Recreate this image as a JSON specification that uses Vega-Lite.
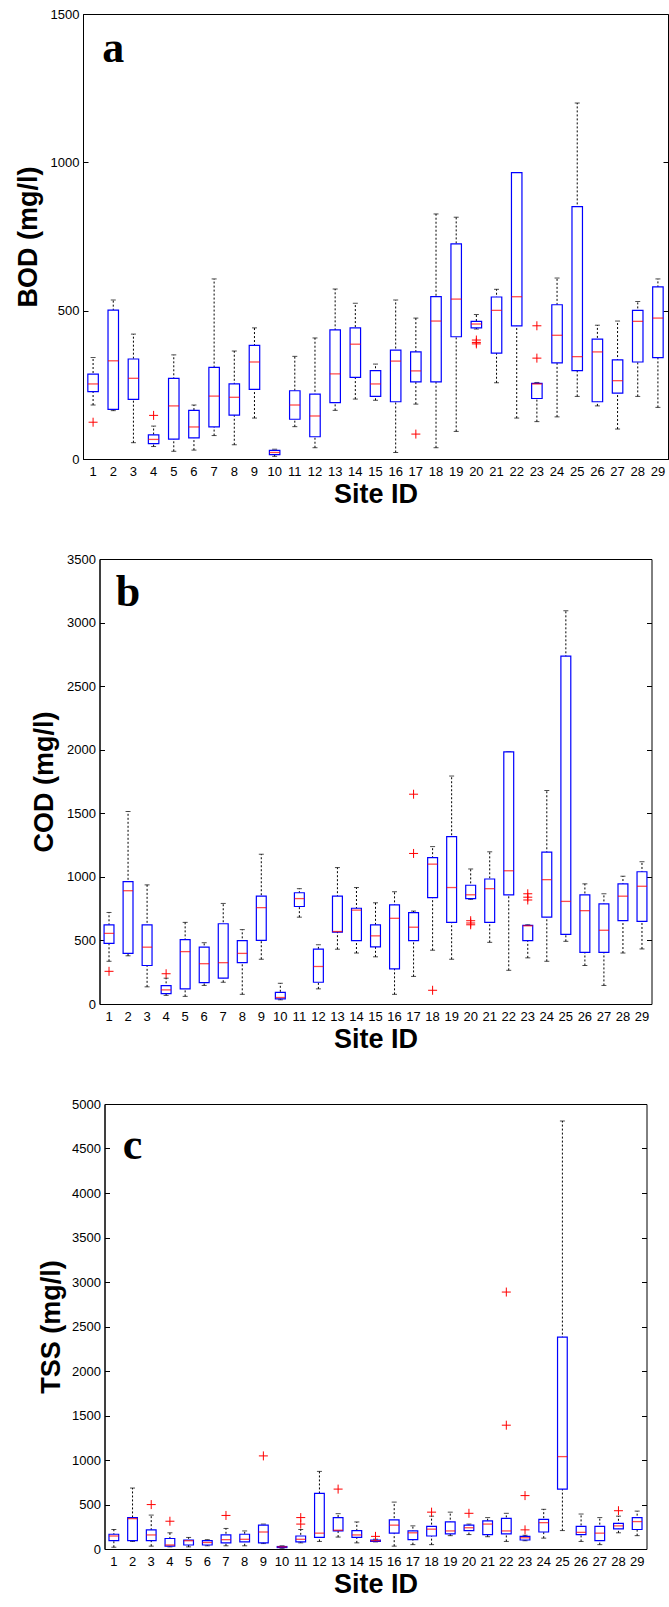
{
  "$schema": "https://vega.github.io/schema/vega-lite/v6.json",
  "padding": {"left": 13, "top": 7, "right": 0, "bottom": 0},
  "background": "white",
  "datasets": {
    "bod": [
      {"site":1,"lo":182,"q1":227,"med":253,"q3":286,"hi":342},
      {"site":2,"lo":163,"q1":167,"med":331,"q3":502,"hi":536},
      {"site":3,"lo":55,"q1":201,"med":272,"q3":337,"hi":421},
      {"site":4,"lo":42,"q1":52,"med":66,"q3":81,"hi":111},
      {"site":5,"lo":26,"q1":67,"med":179,"q3":272,"hi":351},
      {"site":6,"lo":30,"q1":71,"med":108,"q3":164,"hi":182},
      {"site":7,"lo":79,"q1":108,"med":212,"q3":309,"hi":607},
      {"site":8,"lo":48,"q1":148,"med":208,"q3":253,"hi":364},
      {"site":9,"lo":138,"q1":235,"med":327,"q3":383,"hi":442},
      {"site":10,"lo":9,"q1":15,"med":22,"q3":29,"hi":33},
      {"site":11,"lo":109,"q1":134,"med":182,"q3":230,"hi":346},
      {"site":12,"lo":38,"q1":75,"med":145,"q3":219,"hi":408},
      {"site":13,"lo":164,"q1":190,"med":287,"q3":435,"hi":573},
      {"site":14,"lo":202,"q1":275,"med":387,"q3":442,"hi":525},
      {"site":15,"lo":198,"q1":211,"med":253,"q3":298,"hi":320},
      {"site":16,"lo":22,"q1":193,"med":330,"q3":367,"hi":536},
      {"site":17,"lo":185,"q1":260,"med":297,"q3":361,"hi":475},
      {"site":18,"lo":38,"q1":260,"med":465,"q3":547,"hi":826},
      {"site":19,"lo":93,"q1":412,"med":539,"q3":725,"hi":815},
      {"site":20,"lo":438,"q1":442,"med":455,"q3":464,"hi":487},
      {"site":21,"lo":257,"q1":357,"med":501,"q3":546,"hi":572},
      {"site":22,"lo":138,"q1":449,"med":547,"q3":965,"hi":965},
      {"site":23,"lo":126,"q1":204,"med":253,"q3":255,"hi":258},
      {"site":24,"lo":142,"q1":324,"med":417,"q3":520,"hi":610},
      {"site":25,"lo":211,"q1":298,"med":345,"q3":851,"hi":1200},
      {"site":26,"lo":179,"q1":193,"med":361,"q3":404,"hi":451},
      {"site":27,"lo":101,"q1":222,"med":264,"q3":334,"hi":465},
      {"site":28,"lo":211,"q1":327,"med":464,"q3":501,"hi":531},
      {"site":29,"lo":174,"q1":342,"med":475,"q3":580,"hi":607}
    ],
    "bodOut": [
      {"site":1,"v":124},{"site":4,"v":147},{"site":17,"v":84},
      {"site":20,"v":401},{"site":20,"v":393},{"site":20,"v":388},
      {"site":23,"v":449},{"site":23,"v":340}
    ],
    "cod": [
      {"site":1,"lo":336,"q1":477,"med":555,"q3":623,"hi":720},
      {"site":2,"lo":379,"q1":398,"med":891,"q3":962,"hi":1514},
      {"site":3,"lo":135,"q1":303,"med":447,"q3":623,"hi":937},
      {"site":4,"lo":68,"q1":81,"med":111,"q3":144,"hi":203},
      {"site":5,"lo":60,"q1":119,"med":412,"q3":507,"hi":642},
      {"site":6,"lo":146,"q1":168,"med":317,"q3":447,"hi":482},
      {"site":7,"lo":171,"q1":203,"med":325,"q3":631,"hi":791},
      {"site":8,"lo":76,"q1":325,"med":398,"q3":498,"hi":585},
      {"site":9,"lo":352,"q1":501,"med":758,"q3":848,"hi":1178},
      {"site":10,"lo":33,"q1":41,"med":51,"q3":92,"hi":163},
      {"site":11,"lo":683,"q1":767,"med":829,"q3":875,"hi":907},
      {"site":12,"lo":119,"q1":171,"med":295,"q3":431,"hi":466},
      {"site":13,"lo":431,"q1":566,"med":570,"q3":848,"hi":1073},
      {"site":14,"lo":401,"q1":498,"med":739,"q3":753,"hi":916},
      {"site":15,"lo":371,"q1":450,"med":536,"q3":623,"hi":796},
      {"site":16,"lo":76,"q1":276,"med":674,"q3":780,"hi":883},
      {"site":17,"lo":217,"q1":498,"med":604,"q3":718,"hi":731},
      {"site":18,"lo":423,"q1":837,"med":1100,"q3":1151,"hi":1238},
      {"site":19,"lo":352,"q1":642,"med":916,"q3":1316,"hi":1793},
      {"site":20,"lo":823,"q1":829,"med":859,"q3":934,"hi":1062},
      {"site":21,"lo":485,"q1":642,"med":907,"q3":983,"hi":1197},
      {"site":22,"lo":265,"q1":859,"med":1048,"q3":1983,"hi":1983},
      {"site":23,"lo":363,"q1":498,"med":615,"q3":618,"hi":623},
      {"site":24,"lo":336,"q1":683,"med":978,"q3":1194,"hi":1679},
      {"site":25,"lo":493,"q1":547,"med":807,"q3":2736,"hi":3093},
      {"site":26,"lo":303,"q1":406,"med":734,"q3":859,"hi":945},
      {"site":27,"lo":146,"q1":406,"med":580,"q3":788,"hi":867},
      {"site":28,"lo":401,"q1":655,"med":848,"q3":945,"hi":1005},
      {"site":29,"lo":433,"q1":650,"med":926,"q3":1040,"hi":1119}
    ],
    "codOut": [
      {"site":1,"v":257},{"site":4,"v":238},{"site":17,"v":1650},{"site":17,"v":1184},
      {"site":18,"v":108},{"site":20,"v":655},{"site":20,"v":637},{"site":20,"v":623},
      {"site":23,"v":867},{"site":23,"v":840},{"site":23,"v":818}
    ],
    "tss": [
      {"site":1,"lo":20,"q1":93,"med":146,"q3":166,"hi":219},
      {"site":2,"lo":85,"q1":93,"med":341,"q3":353,"hi":685},
      {"site":3,"lo":32,"q1":93,"med":158,"q3":215,"hi":381},
      {"site":4,"lo":24,"q1":32,"med":45,"q3":118,"hi":182},
      {"site":5,"lo":24,"q1":45,"med":93,"q3":101,"hi":130},
      {"site":6,"lo":36,"q1":45,"med":73,"q3":93,"hi":105},
      {"site":7,"lo":36,"q1":69,"med":105,"q3":158,"hi":231},
      {"site":8,"lo":36,"q1":81,"med":109,"q3":166,"hi":203},
      {"site":9,"lo":61,"q1":69,"med":191,"q3":268,"hi":280},
      {"site":10,"lo":8,"q1":16,"med":24,"q3":28,"hi":36},
      {"site":11,"lo":69,"q1":81,"med":109,"q3":146,"hi":219},
      {"site":12,"lo":85,"q1":130,"med":178,"q3":624,"hi":872},
      {"site":13,"lo":134,"q1":203,"med":211,"q3":353,"hi":397},
      {"site":14,"lo":69,"q1":130,"med":158,"q3":207,"hi":304},
      {"site":15,"lo":80,"q1":85,"med":93,"q3":101,"hi":110},
      {"site":16,"lo":32,"q1":178,"med":268,"q3":328,"hi":527},
      {"site":17,"lo":49,"q1":105,"med":182,"q3":203,"hi":260},
      {"site":18,"lo":49,"q1":146,"med":223,"q3":255,"hi":369},
      {"site":19,"lo":150,"q1":170,"med":203,"q3":304,"hi":414},
      {"site":20,"lo":162,"q1":207,"med":239,"q3":268,"hi":280},
      {"site":21,"lo":138,"q1":162,"med":280,"q3":316,"hi":353},
      {"site":22,"lo":85,"q1":170,"med":203,"q3":345,"hi":401},
      {"site":23,"lo":93,"q1":101,"med":126,"q3":142,"hi":154},
      {"site":24,"lo":122,"q1":191,"med":296,"q3":333,"hi":446},
      {"site":25,"lo":207,"q1":673,"med":1038,"q3":2380,"hi":4809},
      {"site":26,"lo":85,"q1":162,"med":187,"q3":255,"hi":393},
      {"site":27,"lo":49,"q1":93,"med":178,"q3":255,"hi":353},
      {"site":28,"lo":182,"q1":227,"med":260,"q3":288,"hi":369},
      {"site":29,"lo":150,"q1":219,"med":308,"q3":353,"hi":426}
    ],
    "tssOut": [
      {"site":3,"v":499},{"site":4,"v":312},{"site":7,"v":377},{"site":9,"v":1046},
      {"site":11,"v":353},{"site":11,"v":280},{"site":13,"v":673},{"site":15,"v":142},
      {"site":18,"v":414},{"site":20,"v":401},{"site":22,"v":2887},{"site":22,"v":1391},
      {"site":23,"v":600},{"site":23,"v":215},{"site":28,"v":430}
    ]
  },
  "vconcat": [
    {
      "width": 585, "height": 445,
      "encoding": {"x": {"field": "site", "type": "ordinal", "scale": {"domain": [1,2,3,4,5,6,7,8,9,10,11,12,13,14,15,16,17,18,19,20,21,22,23,24,25,26,27,28,29], "paddingInner": 0, "paddingOuter": 0}, "axis": {"title": "Site ID", "labelAngle": 0, "ticks": false, "labelPadding": 6, "titlePadding": 3}}},
      "resolve": {"axis": {"y": "independent"}},
      "layer": [
        {"data": {"name": "bod"}, "mark": {"type": "rule", "color": "black", "strokeDash": [2,2], "strokeWidth": 1},
         "encoding": {"y": {"field": "lo", "type": "quantitative", "scale": {"domain": [0,1500], "nice": false}, "axis": {"title": "BOD (mg/l)", "values": [0,500,1000,1500], "format": "d", "tickSize": -5, "labelPadding": 9, "titlePadding": 14, "titleBaseline": "alphabetic"}}, "y2": {"field": "hi"}}},
        {"data": {"name": "bod"}, "mark": {"type": "tick", "color": "black", "size": 5, "thickness": 1},
         "encoding": {"y": {"field": "lo", "type": "quantitative", "axis": null}}},
        {"data": {"name": "bod"}, "mark": {"type": "tick", "color": "black", "size": 5, "thickness": 1},
         "encoding": {"y": {"field": "hi", "type": "quantitative", "axis": null}}},
        {"data": {"name": "bod"}, "mark": {"type": "bar", "fill": "white", "stroke": "#0000ff", "strokeWidth": 1.2, "width": {"band": 0.52}},
         "encoding": {"y": {"field": "q1", "type": "quantitative", "axis": null}, "y2": {"field": "q3"}}},
        {"data": {"name": "bod"}, "mark": {"type": "tick", "color": "#ff0000", "size": 10.5, "thickness": 1.3},
         "encoding": {"y": {"field": "med", "type": "quantitative", "axis": {"orient": "right", "labels": false, "title": null, "domain": false, "tickSize": -5, "values": [0,500,1000,1500]}}}},
        {"data": {"name": "bodOut"}, "mark": {"type": "point", "shape": "M-1,0L1,0M0,-1L0,1", "size": 81, "filled": false, "stroke": "#ff0000", "strokeWidth": 1, "opacity": 1},
         "encoding": {"y": {"field": "v", "type": "quantitative", "axis": null}}},
        {"data": {"values": [{"site": 2, "v": 1337, "label": "a"}]}, "mark": {"type": "text", "font": "Liberation Serif", "fontWeight": "bold", "fontSize": 44, "baseline": "alphabetic", "align": "center", "color": "black"},
         "encoding": {"y": {"field": "v", "type": "quantitative", "axis": null}, "text": {"field": "label"}}}
      ]
    },
    {
      "width": 552, "height": 445,
      "encoding": {"x": {"field": "site", "type": "ordinal", "scale": {"domain": [1,2,3,4,5,6,7,8,9,10,11,12,13,14,15,16,17,18,19,20,21,22,23,24,25,26,27,28,29], "paddingInner": 0, "paddingOuter": 0}, "axis": {"title": "Site ID", "labelAngle": 0, "ticks": false, "labelPadding": 6, "titlePadding": 3}}},
      "resolve": {"axis": {"y": "independent"}},
      "layer": [
        {"data": {"name": "cod"}, "mark": {"type": "rule", "color": "black", "strokeDash": [2,2], "strokeWidth": 1},
         "encoding": {"y": {"field": "lo", "type": "quantitative", "scale": {"domain": [0,3500], "nice": false}, "axis": {"title": "COD (mg/l)", "values": [0,500,1000,1500,2000,2500,3000,3500], "format": "d", "tickSize": -5, "labelPadding": 9, "titlePadding": 14, "titleBaseline": "alphabetic"}}, "y2": {"field": "hi"}}},
        {"data": {"name": "cod"}, "mark": {"type": "tick", "color": "black", "size": 5, "thickness": 1},
         "encoding": {"y": {"field": "lo", "type": "quantitative", "axis": null}}},
        {"data": {"name": "cod"}, "mark": {"type": "tick", "color": "black", "size": 5, "thickness": 1},
         "encoding": {"y": {"field": "hi", "type": "quantitative", "axis": null}}},
        {"data": {"name": "cod"}, "mark": {"type": "bar", "fill": "white", "stroke": "#0000ff", "strokeWidth": 1.2, "width": {"band": 0.52}},
         "encoding": {"y": {"field": "q1", "type": "quantitative", "axis": null}, "y2": {"field": "q3"}}},
        {"data": {"name": "cod"}, "mark": {"type": "tick", "color": "#ff0000", "size": 9.9, "thickness": 1.3},
         "encoding": {"y": {"field": "med", "type": "quantitative", "axis": {"orient": "right", "labels": false, "title": null, "domain": false, "tickSize": -5, "values": [0,500,1000,1500,2000,2500,3000,3500]}}}},
        {"data": {"name": "codOut"}, "mark": {"type": "point", "shape": "M-1,0L1,0M0,-1L0,1", "size": 81, "filled": false, "stroke": "#ff0000", "strokeWidth": 1, "opacity": 1},
         "encoding": {"y": {"field": "v", "type": "quantitative", "axis": null}}},
        {"data": {"values": [{"site": 2, "v": 3128, "label": "b"}]}, "mark": {"type": "text", "font": "Liberation Serif", "fontWeight": "bold", "fontSize": 44, "baseline": "alphabetic", "align": "center", "color": "black"},
         "encoding": {"y": {"field": "v", "type": "quantitative", "axis": null}, "text": {"field": "label"}}}
      ]
    },
    {
      "width": 542, "height": 445,
      "encoding": {"x": {"field": "site", "type": "ordinal", "scale": {"domain": [1,2,3,4,5,6,7,8,9,10,11,12,13,14,15,16,17,18,19,20,21,22,23,24,25,26,27,28,29], "paddingInner": 0, "paddingOuter": 0}, "axis": {"title": "Site ID", "labelAngle": 0, "ticks": false, "labelPadding": 6, "titlePadding": 3}}},
      "resolve": {"axis": {"y": "independent"}},
      "layer": [
        {"data": {"name": "tss"}, "mark": {"type": "rule", "color": "black", "strokeDash": [2,2], "strokeWidth": 1},
         "encoding": {"y": {"field": "lo", "type": "quantitative", "scale": {"domain": [0,5000], "nice": false}, "axis": {"title": "TSS (mg/l)", "values": [0,500,1000,1500,2000,2500,3000,3500,4000,4500,5000], "format": "d", "tickSize": -5, "labelPadding": 9, "titlePadding": 12, "titleBaseline": "alphabetic"}}, "y2": {"field": "hi"}}},
        {"data": {"name": "tss"}, "mark": {"type": "tick", "color": "black", "size": 5, "thickness": 1},
         "encoding": {"y": {"field": "lo", "type": "quantitative", "axis": null}}},
        {"data": {"name": "tss"}, "mark": {"type": "tick", "color": "black", "size": 5, "thickness": 1},
         "encoding": {"y": {"field": "hi", "type": "quantitative", "axis": null}}},
        {"data": {"name": "tss"}, "mark": {"type": "bar", "fill": "white", "stroke": "#0000ff", "strokeWidth": 1.2, "width": {"band": 0.52}},
         "encoding": {"y": {"field": "q1", "type": "quantitative", "axis": null}, "y2": {"field": "q3"}}},
        {"data": {"name": "tss"}, "mark": {"type": "tick", "color": "#ff0000", "size": 9.7, "thickness": 1.3},
         "encoding": {"y": {"field": "med", "type": "quantitative", "axis": {"orient": "right", "labels": false, "title": null, "domain": false, "tickSize": -5, "values": [0,500,1000,1500,2000,2500,3000,3500,4000,4500,5000]}}}},
        {"data": {"name": "tssOut"}, "mark": {"type": "point", "shape": "M-1,0L1,0M0,-1L0,1", "size": 81, "filled": false, "stroke": "#ff0000", "strokeWidth": 1, "opacity": 1},
         "encoding": {"y": {"field": "v", "type": "quantitative", "axis": null}}},
        {"data": {"values": [{"site": 2, "v": 4387, "label": "c"}]}, "mark": {"type": "text", "font": "Liberation Serif", "fontWeight": "bold", "fontSize": 44, "baseline": "alphabetic", "align": "center", "color": "black"},
         "encoding": {"y": {"field": "v", "type": "quantitative", "axis": null}, "text": {"field": "label"}}}
      ]
    }
  ],
  "spacing": 44,
  "center": true,
  "config": {
    "view": {"stroke": "black", "strokeWidth": 1},
    "axis": {"labelFont": "Liberation Sans", "labelFontSize": 13, "labelColor": "black", "titleFont": "Liberation Sans", "titleFontSize": 27, "titleFontWeight": "bold", "titleColor": "black", "domainColor": "black", "tickColor": "black", "grid": false}
  }
}
